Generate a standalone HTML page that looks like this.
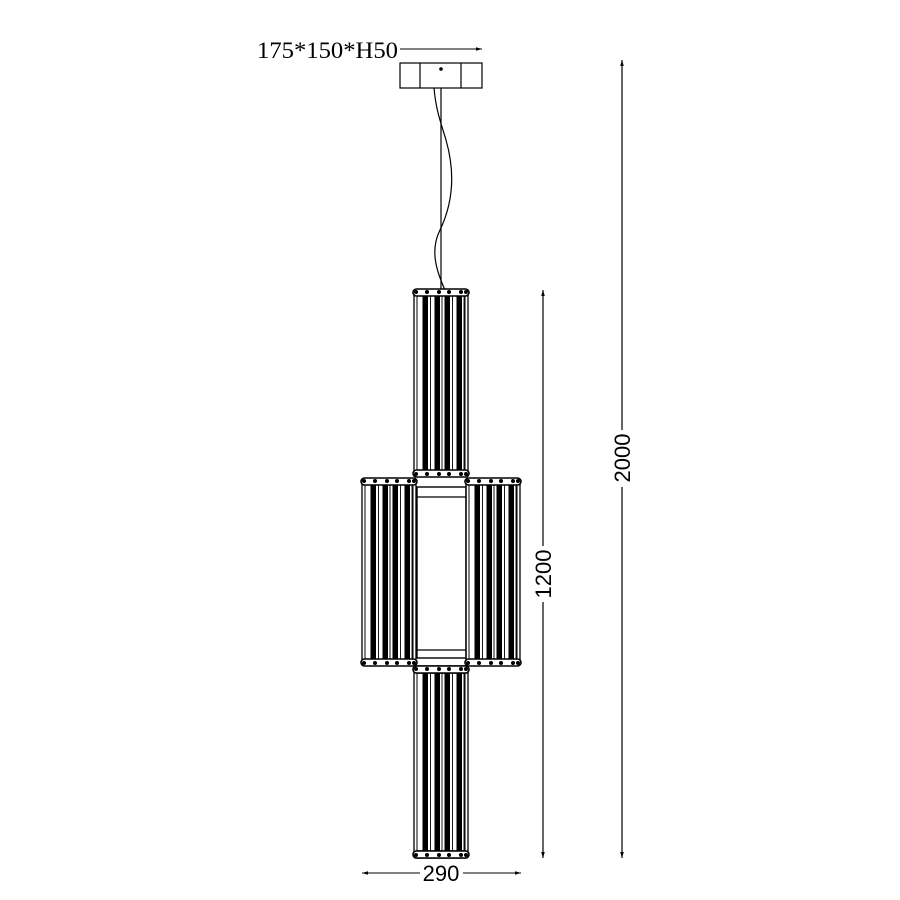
<!DOCTYPE html>
<html><head><meta charset="utf-8"><style>html,body{margin:0;padding:0;background:#fff}svg{display:block}</style></head>
<body>
<svg width="900" height="900" viewBox="0 0 900 900" xmlns="http://www.w3.org/2000/svg">
<defs>
<marker id="ar" viewBox="0 0 10 10" refX="10" refY="5" markerWidth="8" markerHeight="6" orient="auto-start-reverse" markerUnits="userSpaceOnUse"><path d="M0,2 L10,5 L0,8 z" fill="#000"/></marker>
<g id="cy">
<rect x="1" y="0" width="54" height="182" fill="none" stroke="#000" stroke-width="1.3"/>
<rect x="4" y="0" width="48" height="182" fill="none" stroke="#000" stroke-width="1"/>
<rect x="9.5" y="4" width="5.5" height="174" fill="#000"/>
<rect x="21.5" y="4" width="5.5" height="174" fill="#000"/>
<rect x="31.5" y="4" width="5.5" height="174" fill="#000"/>
<rect x="43.5" y="4" width="5.5" height="174" fill="#000"/>
<g stroke="#000" stroke-width="0.9">
<line x1="17.5" y1="4" x2="17.5" y2="178"/><line x1="29" y1="4" x2="29" y2="178"/>
<line x1="39.5" y1="4" x2="39.5" y2="178"/><line x1="51" y1="4" x2="51" y2="178"/>
</g>
<rect x="0" y="-3" width="56" height="7" rx="3.5" fill="#fff" stroke="#000" stroke-width="1.6"/>
<rect x="0" y="178" width="56" height="7" rx="3.5" fill="#fff" stroke="#000" stroke-width="1.6"/>
<g fill="#000">
<circle cx="3" cy="0" r="2"/><circle cx="14" cy="0" r="2"/><circle cx="26" cy="0" r="2"/><circle cx="36" cy="0" r="2"/><circle cx="48" cy="0" r="2"/><circle cx="53" cy="0" r="2"/>
<circle cx="3" cy="182" r="2"/><circle cx="14" cy="182" r="2"/><circle cx="26" cy="182" r="2"/><circle cx="36" cy="182" r="2"/><circle cx="48" cy="182" r="2"/><circle cx="53" cy="182" r="2"/>
</g>
</g>
</defs>
<g stroke="#000" fill="none" stroke-width="1.2">
<rect x="400" y="63" width="82" height="25"/>
<line x1="420" y1="63" x2="420" y2="88"/>
<line x1="461" y1="63" x2="461" y2="88"/>
<circle cx="441" cy="69" r="1.2" fill="#000"/>
<line x1="441" y1="88" x2="441" y2="290"/>
<path d="M434,88 C436,110 440,120 446,140 C456,175 452,205 440,230 C430,250 436,270 445,290"/>
<rect x="417" y="487" width="49" height="171" stroke-width="1.4"/>
<line x1="417" y1="497" x2="466" y2="497"/>
<line x1="417" y1="650" x2="466" y2="650"/>
<line x1="400" y1="49" x2="482" y2="49" stroke-width="1" marker-end="url(#ar)"/>
<line x1="543" y1="290" x2="543" y2="546" marker-start="url(#ar)"/>
<line x1="543" y1="602" x2="543" y2="858" marker-end="url(#ar)"/>
<line x1="622" y1="60" x2="622" y2="430" marker-start="url(#ar)"/>
<line x1="622" y1="487" x2="622" y2="858" marker-end="url(#ar)"/>
<line x1="362" y1="873" x2="420" y2="873" stroke-width="1" marker-start="url(#ar)"/>
<line x1="463" y1="873" x2="521" y2="873" stroke-width="1" marker-end="url(#ar)"/>
</g>
<use href="#cy" x="413" y="292"/>
<use href="#cy" x="361" y="481"/>
<use href="#cy" x="465" y="481"/>
<use href="#cy" transform="translate(413,669) scale(1,1.022)"/>
<text x="257" y="58" font-family="Liberation Serif, serif" font-size="23" textLength="141" lengthAdjust="spacingAndGlyphs">175*150*H50</text>
<g font-family="Liberation Sans, sans-serif" font-size="22" fill="#000">
<text x="441" y="881" text-anchor="middle">290</text>
<text transform="translate(551,574) rotate(-90)" text-anchor="middle">1200</text>
<text transform="translate(630,458) rotate(-90)" text-anchor="middle">2000</text>
</g>
</svg>
</body></html>
